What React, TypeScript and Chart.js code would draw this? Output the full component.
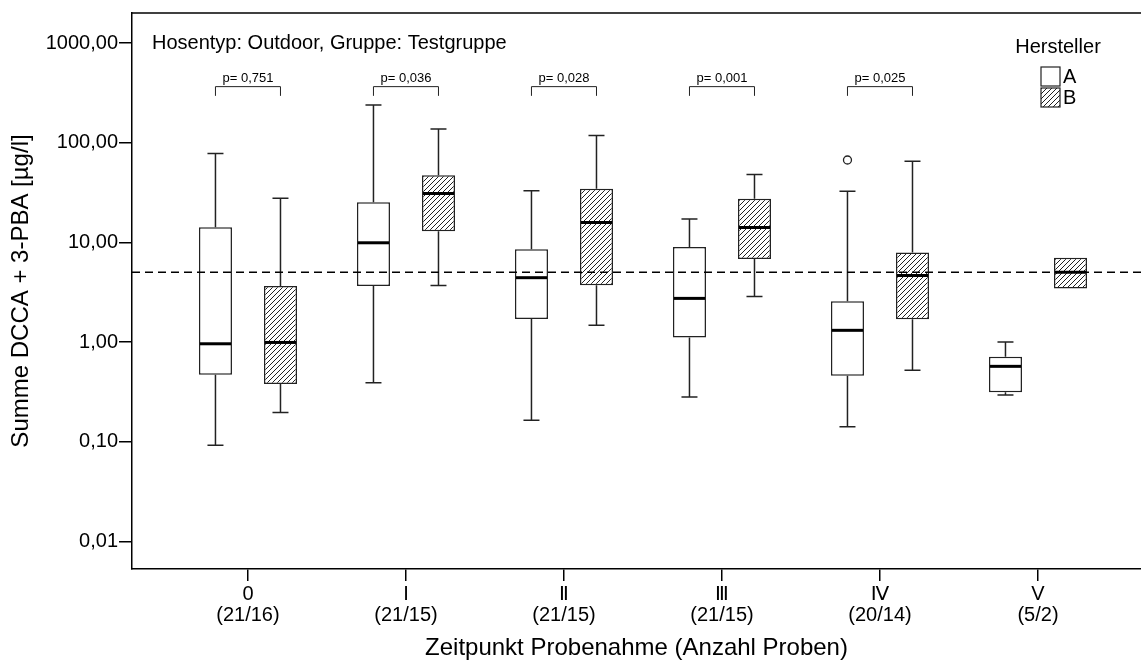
import React, { useEffect, useRef } from 'react';
import { Chart, registerables } from 'chart.js';

Chart.register(...registerables);

// ---------- data ----------
const categories = ['0', 'I', 'Ⅱ', 'Ⅲ', 'Ⅳ', 'V'];
const sampleCounts = ['(21/16)', '(21/15)', '(21/15)', '(21/15)', '(20/14)', '(5/2)'];
const yTickValues = [0.01, 0.1, 1, 10, 100, 1000];

// Hersteller A
const aWhiskerLow = [0.092, 0.39, 0.164, 0.28, 0.141, 0.294];
const aQ1 = [0.47, 3.64, 1.7, 1.11, 0.46, 0.313];
const aMedian = [0.96, 9.9, 4.42, 2.74, 1.31, 0.57];
const aQ3 = [14.2, 25.3, 8.55, 9.0, 2.56, 0.71];
const aWhiskerHigh = [78, 239, 33, 17.1, 32.6, 1.0];
const aOutliers: number[][] = [[], [], [], [], [67], []];

// Hersteller B
const bWhiskerLow: (number | null)[] = [0.196, 3.7, 1.47, 2.87, 0.52, null];
const bQ1 = [0.38, 12.9, 3.72, 6.79, 1.69, 3.45];
const bMedian = [0.99, 30.9, 15.8, 14.1, 4.66, 5.0];
const bQ3 = [3.64, 47, 34.4, 27.3, 7.9, 7.0];
const bWhiskerHigh: (number | null)[] = [27.7, 137, 118, 47.9, 65.1, null];
const bOutliers: number[][] = [[], [], [], [], [], []];

const pValueLabels = ['p= 0,751', 'p= 0,036', 'p= 0,028', 'p= 0,001', 'p= 0,025'];
const pBracketTop = 365;
const pBracketBottom = 295;
const referenceLevel = 5;

const headerText = 'Hosentyp: Outdoor, Gruppe: Testgruppe';
const legendTitle = 'Hersteller';
const seriesNames = ['A', 'B'];
const xTitle = 'Zeitpunkt Probenahme (Anzahl Proben)';
const yTitle = 'Summe DCCA + 3-PBA [µg/l]';

const FONT = "'Liberation Sans', Arial, 'DejaVu Sans', sans-serif";

function makeHatch(ctx: CanvasRenderingContext2D) {
  const s = 5;
  const pc = document.createElement('canvas');
  pc.width = s;
  pc.height = s;
  const c = pc.getContext('2d')!;
  c.fillStyle = '#fff';
  c.fillRect(0, 0, s, s);
  c.strokeStyle = '#222';
  c.lineWidth = 1;
  c.beginPath();
  c.moveTo(0, s);
  c.lineTo(s, 0);
  c.moveTo(-s / 2, s / 2);
  c.lineTo(s / 2, -s / 2);
  c.moveTo(s / 2, s + s / 2);
  c.lineTo(s + s / 2, s / 2);
  c.stroke();
  return ctx.createPattern(pc, 'repeat')!;
}

export default function App() {
  const ref = useRef<HTMLCanvasElement | null>(null);

  useEffect(() => {
    const canvas = ref.current!;
    const ctx0 = canvas.getContext('2d')!;
    const hatch = makeHatch(ctx0);

    const boxPlugin = {
      id: 'boxExtras',
      afterDatasetsDraw(chart: any) {
        const ctx = chart.ctx as CanvasRenderingContext2D;
        const y = chart.scales.y;
        const area = chart.chartArea;
        const series = [
          { lo: aWhiskerLow, hi: aWhiskerHigh, med: aMedian, q1: aQ1, q3: aQ3, out: aOutliers },
          { lo: bWhiskerLow, hi: bWhiskerHigh, med: bMedian, q1: bQ1, q3: bQ3, out: bOutliers },
        ];
        ctx.save();
        series.forEach((s, d) => {
          const meta = chart.getDatasetMeta(d);
          meta.data.forEach((bar: any, i: number) => {
            const cx = bar.x;
            const half = bar.width / 2;
            const cap = 8;
            ctx.strokeStyle = '#222';
            ctx.lineWidth = 1.5;
            ctx.beginPath();
            if (s.hi[i] != null) {
              const yq3 = y.getPixelForValue(s.q3[i]);
              const yh = y.getPixelForValue(s.hi[i] as number);
              ctx.moveTo(cx, yq3);
              ctx.lineTo(cx, yh);
              ctx.moveTo(cx - cap, yh);
              ctx.lineTo(cx + cap, yh);
            }
            if (s.lo[i] != null) {
              const yq1 = y.getPixelForValue(s.q1[i]);
              const yl = y.getPixelForValue(s.lo[i] as number);
              ctx.moveTo(cx, yq1);
              ctx.lineTo(cx, yl);
              ctx.moveTo(cx - cap, yl);
              ctx.lineTo(cx + cap, yl);
            }
            ctx.stroke();
            // median
            const ym = y.getPixelForValue(s.med[i]);
            ctx.strokeStyle = '#000';
            ctx.lineWidth = 3;
            ctx.beginPath();
            ctx.moveTo(cx - half + 1, ym);
            ctx.lineTo(cx + half - 1, ym);
            ctx.stroke();
            // outliers
            s.out[i].forEach((v) => {
              ctx.strokeStyle = '#222';
              ctx.lineWidth = 1.3;
              ctx.fillStyle = '#fff';
              ctx.beginPath();
              ctx.arc(cx, y.getPixelForValue(v), 4, 0, Math.PI * 2);
              ctx.fill();
              ctx.stroke();
            });
          });
        });

        // reference line
        const yr = y.getPixelForValue(referenceLevel);
        ctx.strokeStyle = '#000';
        ctx.lineWidth = 1.5;
        ctx.setLineDash([8, 5]);
        ctx.beginPath();
        ctx.moveTo(area.left, yr);
        ctx.lineTo(area.right, yr);
        ctx.stroke();
        ctx.setLineDash([]);

        // p-value brackets
        const metaA = chart.getDatasetMeta(0);
        const metaB = chart.getDatasetMeta(1);
        const yt = y.getPixelForValue(pBracketTop);
        const yb = y.getPixelForValue(pBracketBottom);
        ctx.lineWidth = 1;
        ctx.strokeStyle = '#222';
        ctx.fillStyle = '#000';
        ctx.font = `13px ${FONT}`;
        ctx.textAlign = 'center';
        ctx.textBaseline = 'alphabetic';
        pValueLabels.forEach((label, i) => {
          const x1 = metaA.data[i].x;
          const x2 = metaB.data[i].x;
          ctx.beginPath();
          ctx.moveTo(x1, yb);
          ctx.lineTo(x1, yt);
          ctx.lineTo(x2, yt);
          ctx.lineTo(x2, yb);
          ctx.stroke();
          ctx.fillText(label, (x1 + x2) / 2, yt - 5);
        });

        // top frame line
        ctx.strokeStyle = '#000';
        ctx.lineWidth = 1.5;
        ctx.beginPath();
        ctx.moveTo(area.left, area.top);
        ctx.lineTo(area.right, area.top);
        ctx.stroke();

        // header text
        ctx.font = `20px ${FONT}`;
        ctx.textAlign = 'left';
        ctx.textBaseline = 'middle';
        ctx.fillStyle = '#000';
        ctx.fillText(headerText, area.left + 20, 43);

        // legend
        ctx.textAlign = 'center';
        ctx.fillText(legendTitle, 1058, 47);
        ctx.textAlign = 'left';
        const fills = ['#fff', hatch];
        seriesNames.forEach((name, k) => {
          const by = 67 + k * 21;
          ctx.fillStyle = fills[k] as any;
          ctx.fillRect(1041, by, 19, 19);
          ctx.strokeStyle = '#222';
          ctx.lineWidth = 1.2;
          ctx.strokeRect(1041, by, 19, 19);
          ctx.fillStyle = '#000';
          ctx.fillText(name, 1063, by + 10);
        });
        ctx.restore();
      },
    };

    const chart = new Chart(canvas, {
      type: 'bar',
      data: {
        datasets: [
          {
            label: seriesNames[0],
            data: categories.map((_, i) => ({ x: i, y: [aQ1[i], aQ3[i]] })) as any,
            backgroundColor: '#fff',
            borderColor: '#222',
            borderWidth: 1.5,
            borderSkipped: false,
            categoryPercentage: 0.823,
            barPercentage: 0.508,
          },
          {
            label: seriesNames[1],
            data: categories.map((_, i) => ({ x: i, y: [bQ1[i], bQ3[i]] })) as any,
            backgroundColor: hatch as any,
            borderColor: '#222',
            borderWidth: 1.5,
            borderSkipped: false,
            categoryPercentage: 0.823,
            barPercentage: 0.508,
          },
        ],
      },
      options: {
        animation: false,
        responsive: false,
        maintainAspectRatio: false,
        layout: { padding: { top: 13, left: 0, right: 0, bottom: 0 } },
        plugins: { legend: { display: false }, tooltip: { enabled: false } },
        scales: {
          x: {
            type: 'linear',
            offset: false,
            min: -0.734,
            max: 5.652,
            afterBuildTicks: (s: any) => {
              s.ticks = categories.map((_, i) => ({ value: i }));
            },
            afterFit: (s: any) => {
              s.height = 92;
            },
            ticks: {
              callback: (v: any) => {
                const i = Math.round(Number(v));
                return [categories[i], sampleCounts[i]];
              },
              font: { size: 20, family: FONT, lineHeight: 1.05 },
              color: '#000',
              padding: 3,
              maxRotation: 0,
              autoSkip: false,
            },
            grid: { offset: false, drawOnChartArea: false, drawTicks: true, tickLength: 12, color: '#000', lineWidth: 1.5 },
            border: { display: true, color: '#000', width: 1.5 },
            title: {
              display: true,
              text: xTitle,
              color: '#000',
              font: { size: 24, family: FONT, lineHeight: 1 },
              padding: { top: 0, bottom: 1 },
            },
          },
          y: {
            type: 'logarithmic',
            min: 0.00528,
            max: 2000,
            afterBuildTicks: (s: any) => {
              s.ticks = yTickValues.map((v) => ({ value: v }));
            },
            afterFit: (s: any) => {
              s.width = 132;
            },
            ticks: {
              callback: (v: any) => Number(v).toFixed(2).replace('.', ','),
              font: { size: 20, family: FONT },
              color: '#000',
              padding: 1,
              autoSkip: false,
            },
            grid: { drawOnChartArea: false, drawTicks: true, tickLength: 13, color: '#000', lineWidth: 1.5 },
            border: { display: true, color: '#000', width: 1.5 },
            title: {
              display: true,
              text: yTitle,
              color: '#000',
              font: { size: 24, family: FONT, lineHeight: 1 },
              padding: { top: 9, bottom: 0 },
            },
          },
        },
      },
      plugins: [boxPlugin],
    });

    return () => {
      chart.destroy();
    };
  }, []);

  return (
    <div style={{ position: 'fixed', left: 0, top: 0, width: 1141, height: 661, background: '#fff' }}>
      <canvas ref={ref} width={1141} height={661} style={{ width: 1141, height: 661, display: 'block' }} />
    </div>
  );
}
